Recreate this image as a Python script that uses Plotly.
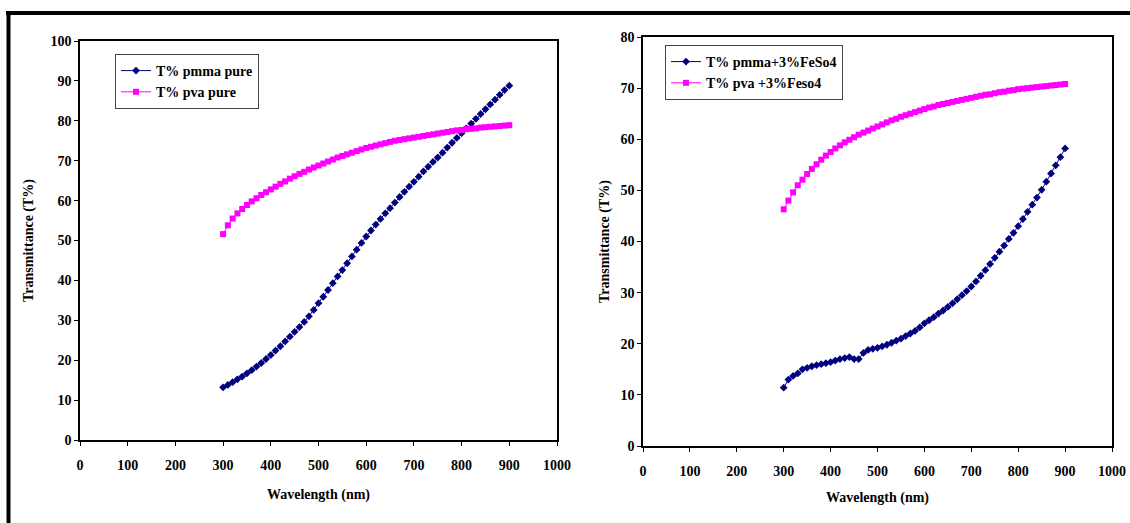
import plotly.graph_objects as go

wavelength = list(range(300, 901, 10))

pmma_pure = [13.2, 13.8, 14.5, 15.2, 15.9, 16.7, 17.5, 18.4, 19.3, 20.3,
             21.3, 22.4, 23.5, 24.7, 25.9, 27.1, 28.3, 29.6, 31.0, 32.6,
             34.3, 35.9, 37.6, 39.3, 41.0, 42.6, 44.3, 46.0, 47.7, 49.4,
             51.0, 52.5, 54.0, 55.4, 56.8, 58.1, 59.5, 60.9, 62.2, 63.5,
             64.7, 66.0, 67.3, 68.5, 69.7, 70.8, 72.0, 73.3, 74.5, 75.7,
             76.9, 78.1, 79.3, 80.5, 81.7, 82.9, 84.1, 85.3, 86.5, 87.7, 88.8]

pva_pure = [51.6, 53.8, 55.5, 56.8, 57.9, 58.9, 59.8, 60.6, 61.4, 62.1,
            62.8, 63.5, 64.2, 64.8, 65.5, 66.1, 66.7, 67.2, 67.8, 68.3,
            68.8, 69.3, 69.8, 70.3, 70.8, 71.2, 71.6, 72.0, 72.4, 72.8,
            73.2, 73.5, 73.8, 74.1, 74.4, 74.7, 75.0, 75.2, 75.4, 75.6,
            75.8, 76.0, 76.2, 76.4, 76.6, 76.8, 77.0, 77.2, 77.4, 77.6,
            77.7, 77.9, 78.0, 78.1, 78.3, 78.4, 78.5, 78.6, 78.7, 78.8, 78.9]

pmma_feso4 = [11.4, 13.0, 13.7, 14.2, 15.0, 15.3, 15.6, 15.8, 16.0, 16.2,
              16.4, 16.7, 17.0, 17.2, 17.4, 17.0, 17.0, 18.2, 18.8, 19.0,
              19.2, 19.5, 19.8, 20.2, 20.6, 21.0, 21.5, 22.0, 22.5, 23.2,
              24.0, 24.6, 25.2, 25.9, 26.5, 27.2, 27.9, 28.7, 29.5, 30.3,
              31.2, 32.2, 33.3, 34.4, 35.6, 36.8, 38.0, 39.2, 40.5, 41.7,
              43.0, 44.4, 45.8, 47.2, 48.6, 50.1, 51.7, 53.3, 54.9, 56.5, 58.2]

pva_feso4 = [46.3, 48.0, 49.6, 51.0, 52.1, 53.2, 54.2, 55.1, 56.0, 56.8,
             57.5, 58.2, 58.8, 59.4, 59.9, 60.4, 60.9, 61.3, 61.7, 62.1,
             62.5, 62.9, 63.3, 63.7, 64.0, 64.4, 64.7, 65.0, 65.3, 65.6,
             65.9, 66.2, 66.4, 66.7, 66.9, 67.1, 67.3, 67.5, 67.7, 67.9,
             68.1, 68.3, 68.5, 68.7, 68.8, 69.0, 69.2, 69.3, 69.5, 69.6,
             69.8, 69.9, 70.0, 70.1, 70.2, 70.3, 70.4, 70.5, 70.6, 70.7, 70.8]

x_ticks = list(range(0, 1001, 100))
left_y_ticks = list(range(0, 101, 10))
right_y_ticks = list(range(0, 81, 10))

NAVY = "#00007F"
MAGENTA = "#FF00FF"
FONT = "Liberation Serif"

W, H = 1130, 523

def px_x(p):
    return p / W

def px_y(p):
    return 1 - p / H

fig = go.Figure()

fig.add_trace(go.Scatter(x=wavelength, y=pmma_pure, name="T% pmma pure",
                         mode="lines+markers", xaxis="x", yaxis="y", legend="legend",
                         line=dict(color=NAVY, width=1),
                         marker=dict(symbol="diamond", size=6, color=NAVY)))
fig.add_trace(go.Scatter(x=wavelength, y=pva_pure, name="T% pva pure",
                         mode="lines+markers", xaxis="x", yaxis="y", legend="legend",
                         line=dict(color=MAGENTA, width=1),
                         marker=dict(symbol="square", size=6, color=MAGENTA)))
fig.add_trace(go.Scatter(x=wavelength, y=pmma_feso4, name="T% pmma+3%FeSo4",
                         mode="lines+markers", xaxis="x2", yaxis="y2", legend="legend2",
                         line=dict(color=NAVY, width=1),
                         marker=dict(symbol="diamond", size=6, color=NAVY)))
fig.add_trace(go.Scatter(x=wavelength, y=pva_feso4, name="T% pva +3%Feso4",
                         mode="lines+markers", xaxis="x2", yaxis="y2", legend="legend2",
                         line=dict(color=MAGENTA, width=1),
                         marker=dict(symbol="square", size=6, color=MAGENTA)))

tickfont = dict(family=FONT, size=14, color="black", weight="bold")
titlefont = dict(family=FONT, size=14, color="black", weight="bold")
legendfont = dict(family=FONT, size=14, color="black", weight="bold")

axis_common = dict(showline=True, linecolor="black", linewidth=1.5, mirror=True,
                   ticks="outside", ticklen=4, tickcolor="black", showgrid=False,
                   zeroline=False, tickfont=tickfont, automargin=False)

fig.update_layout(
    width=W, height=H,
    margin=dict(l=0, r=0, t=0, b=0),
    paper_bgcolor="white", plot_bgcolor="white",
    font=dict(family=FONT, size=14, color="black"),
    xaxis=dict(domain=[px_x(80), px_x(557)], range=[0, 1000], tickvals=x_ticks,
               anchor="y", ticklabelstandoff=7,
               title=dict(text="Wavelength (nm)", font=titlefont, standoff=18),
               **axis_common),
    yaxis=dict(domain=[px_y(440), px_y(41)], range=[0, 100], tickvals=left_y_ticks,
               anchor="x", title=dict(text="Transmittance (T%)", font=titlefont, standoff=14),
               **axis_common),
    xaxis2=dict(domain=[px_x(643), px_x(1112)], range=[0, 1000], tickvals=x_ticks,
                anchor="y2", ticklabelstandoff=7,
                title=dict(text="Wavelength (nm)", font=titlefont, standoff=15),
                **axis_common),
    yaxis2=dict(domain=[px_y(446), px_y(37)], range=[0, 80], tickvals=right_y_ticks,
                anchor="x2", title=dict(text="Transmittance (T%)", font=titlefont, standoff=8),
                **axis_common),
    legend=dict(x=px_x(115), y=px_y(54), xanchor="left", yanchor="top",
                bgcolor="white", bordercolor="#444", borderwidth=1,
                font=legendfont, tracegroupgap=2),
    legend2=dict(x=px_x(665), y=px_y(45), xanchor="left", yanchor="top",
                 bgcolor="white", bordercolor="#444", borderwidth=1,
                 font=legendfont, tracegroupgap=2),
    shapes=[
        dict(type="line", xref="paper", yref="paper", x0=px_x(6), x1=1.01,
             y0=px_y(13), y1=px_y(13), line=dict(color="black", width=4)),
        dict(type="line", xref="paper", yref="paper", x0=px_x(8.5), x1=px_x(8.5),
             y0=px_y(11), y1=-0.01, line=dict(color="black", width=4)),
    ],
)

fig.write_html("out.html", config={"displayModeBar": False},
               post_script="document.body.style.margin='0';document.body.style.overflow='hidden';")
